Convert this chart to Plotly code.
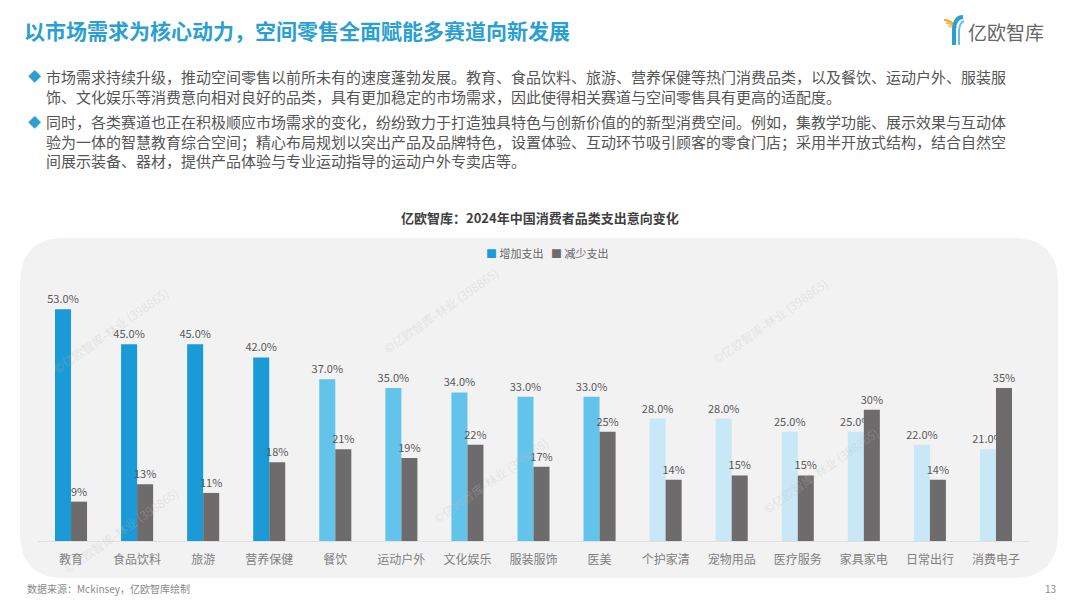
import plotly.graph_objects as go

# data
categories = ["教育", "食品饮料", "旅游", "营养保健", "餐饮", "运动户外", "文化娱乐", "服装服饰",
              "医美", "个护家清", "宠物用品", "医疗服务", "家具家电", "日常出行", "消费电子"]
increase = [53, 45, 45, 42, 37, 35, 34, 33, 33, 28, 28, 25, 25, 22, 21]
decrease = [9, 13, 11, 18, 21, 19, 22, 17, 25, 14, 15, 15, 30, 14, 35]
series_names = ["增加支出", "减少支出"]

page_title = "以市场需求为核心动力，空间零售全面赋能多赛道向新发展"
bullets = [
    ["市场需求持续升级，推动空间零售以前所未有的速度蓬勃发展。教育、食品饮料、旅游、营养保健等热门消费品类，以及餐饮、运动户外、服装服",
     "饰、文化娱乐等消费意向相对良好的品类，具有更加稳定的市场需求，因此使得相关赛道与空间零售具有更高的适配度。"],
    ["同时，各类赛道也正在积极顺应市场需求的变化，纷纷致力于打造独具特色与创新价值的的新型消费空间。例如，集教学功能、展示效果与互动体",
     "验为一体的智慧教育综合空间；精心布局规划以突出产品及品牌特色，设置体验、互动环节吸引顾客的零食门店；采用半开放式结构，结合自然空",
     "间展示装备、器材，提供产品体验与专业运动指导的运动户外专卖店等。"],
]
chart_title = "亿欧智库：2024年中国消费者品类支出意向变化"
source = "数据来源：Mckinsey，亿欧智库绘制"
page_no = "13"
watermark = "©亿欧智库-林业 (398865)"

FONT = "Noto Sans CJK SC"
W, H = 1080, 607
BLUE = "#2a9fd4"
blue_shades = ["#1a9ad6"] * 4 + ["#62c4ea"] * 5 + ["#c8e8f7"] * 6
GREY = "#6d6b6b"


def px(x):
    return x / W


def py(y):
    return 1 - y / H


fig = go.Figure()
fig.add_trace(go.Bar(
    x=categories, y=increase, name=series_names[0],
    marker=dict(color=blue_shades, line=dict(width=0)),
    text=[f"{v:.1f}%" for v in increase], textposition="outside",
    textfont=dict(size=11, color="#595959", family=FONT),
    constraintext="none", cliponaxis=False,
))
fig.add_trace(go.Bar(
    x=categories, y=decrease, name=series_names[1],
    marker=dict(color=GREY, line=dict(width=0)),
    text=[f"{v}%" for v in decrease], textposition="outside",
    textfont=dict(size=11, color="#595959", family=FONT),
    constraintext="none", cliponaxis=False,
))

shapes = []
# grey rounded panel behind the chart
x0, x1, y0, y1, r = px(20), px(1058), py(578), py(238), 45
rx, ry = r / W, r / H
panel = (f"M {x0+rx},{y1} L {x1-rx},{y1} Q {x1},{y1} {x1},{y1-ry} "
         f"L {x1},{y0+ry} Q {x1},{y0} {x1-rx},{y0} L {x0+rx},{y0} "
         f"Q {x0},{y0} {x0},{y0+ry} L {x0},{y1-ry} Q {x0},{y1} {x0+rx},{y1} Z")
shapes.append(dict(type="path", path=panel, xref="paper", yref="paper",
                   fillcolor="#f2f2f2", line=dict(width=0), layer="below"))

# logo icon (approximate Y mark)
for i, c in enumerate(["#f5a623", "#f7b84b", "#f9c96f"]):
    shapes.append(dict(type="path", xref="paper", yref="paper",
                       path=f"M {px(944+i*2)},{py(20+i*3)} Q {px(952)},{py(20+i*3)} {px(956)},{py(28)}",
                       line=dict(color=c, width=2)))
shapes.append(dict(type="path", xref="paper", yref="paper",
                   path=f"M {px(954)},{py(45)} L {px(954)},{py(29)} Q {px(955)},{py(17)} {px(963)},{py(17)}",
                   line=dict(color="#2a9fd4", width=4)))
shapes.append(dict(type="path", xref="paper", yref="paper",
                   path=f"M {px(959)},{py(45)} L {px(959)},{py(30)} Q {px(960)},{py(22)} {px(964)},{py(21)}",
                   line=dict(color="#5ec2ea", width=2)))

ann = []
ann.append(dict(text=f"<b>{page_title}</b>", x=px(22), y=py(30), xanchor="left", yanchor="middle",
                font=dict(size=21, color=BLUE, family=FONT)))
ann.append(dict(text="亿欧智库", x=px(966), y=py(32), xanchor="left", yanchor="middle",
                font=dict(size=19, color="#666666", family=FONT)))

para_top = [64, 109]
for para, top in zip(bullets, para_top):
    ann.append(dict(text="◆", x=px(26), y=py(top + 12), xanchor="left", yanchor="middle",
                    font=dict(size=13, color=BLUE, family=FONT)))
    ann.append(dict(text="<br>".join(para), x=px(44), y=py(top), xanchor="left", yanchor="top",
                    align="left", font=dict(size=15, color="#555555", family=FONT)))

ann.append(dict(text=f"<b>{chart_title}</b>", x=0.5, y=py(217), xanchor="center", yanchor="middle",
                font=dict(size=13, color="#404040", family=FONT)))

# legend drawn as text
legend_x = [484, 549]
for name, color, lx in zip(series_names, [blue_shades[0], GREY], legend_x):
    ann.append(dict(text=f"<span style='color:{color}'>■</span> {name}", x=px(lx), y=py(253),
                    xanchor="left", yanchor="middle",
                    font=dict(size=11, color="#666666", family=FONT)))

ann.append(dict(text=source, x=px(25), y=py(588), xanchor="left", yanchor="middle",
                font=dict(size=10, color="#8a8a8a", family=FONT)))
ann.append(dict(text=page_no, x=px(1058), y=py(588), xanchor="right", yanchor="middle",
                font=dict(size=10, color="#8a8a8a", family=FONT)))

for wx, wy in [(110, 330), (440, 310), (770, 320), (490, 480), (820, 470), (120, 530)]:
    ann.append(dict(text=watermark, x=px(wx), y=py(wy), xanchor="center", yanchor="middle",
                    textangle=-35, font=dict(size=12, color="rgba(190,190,190,0.3)", family=FONT)))

for a in ann:
    a.update(xref="paper", yref="paper", showarrow=False)

fig.update_layout(
    width=W, height=H,
    margin=dict(l=0, r=0, t=0, b=0),
    paper_bgcolor="white", plot_bgcolor="rgba(0,0,0,0)",
    font=dict(family=FONT, color="#555555"),
    barmode="group", bargap=0.515, bargroupgap=0,
    showlegend=False,
    xaxis=dict(domain=[px(38), px(1029)], showgrid=False, zeroline=False,
               showline=True, linecolor="#e0e0e0", linewidth=1,
               tickfont=dict(size=12, color="#808080", family=FONT), ticks="",
               ticklabelstandoff=8),
    yaxis=dict(domain=[py(541), py(270)], range=[0, 62], visible=False),
    shapes=shapes, annotations=ann,
)

fig.write_html("out.html", config={"displayModeBar": False},
               post_script="document.body.style.margin='0';")
